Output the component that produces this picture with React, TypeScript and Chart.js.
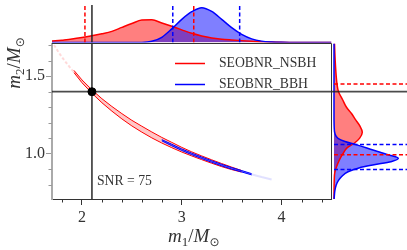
import React, { useEffect, useRef } from 'react';
import { Chart, registerables } from 'chart.js';
Chart.register(...registerables);

const W = 407;
const H = 250;
const SERIF = "'Liberation Serif', 'DejaVu Serif', serif";

// ---------- series names & labels ----------
const seriesNames = ['SEOBNR_NSBH', 'SEOBNR_BBH'];
const snrLabel = 'SNR = 75';

// ---------- axes ----------
const m1Range = [1.7, 4.5];
const m2Range = [0.71, 1.71];
const m1Ticks = [2, 3, 4];
const m2Ticks = [1.0, 1.5];
const m1MinorTicks = [1.8, 2.2, 2.4, 2.6, 2.8, 3.2, 3.4, 3.6, 3.8, 4.2, 4.4];
const m2MinorTicks = [0.8, 0.9, 1.1, 1.2, 1.3, 1.4, 1.6, 1.7];

// ---------- injected (true) values ----------
const trueM1 = [2.1];
const trueM2 = [1.4];

// ---------- main panel: posterior contours ----------
const redTailM1 = [1.72, 1.76, 1.8, 1.85, 1.9, 1.94];
const redTailM2 = [1.7, 1.66, 1.622, 1.58, 1.54, 1.512];
const redBandM1 = [1.92, 2.0, 2.1, 2.2, 2.3, 2.4, 2.5, 2.6, 2.7, 2.8, 2.9, 3.0, 3.1, 3.2, 3.3, 3.4, 3.5, 3.6];
const redBandUpper = [1.537, 1.476, 1.412, 1.355, 1.305, 1.259, 1.216, 1.178, 1.141, 1.106, 1.074, 1.042, 1.013, 0.987, 0.962, 0.938, 0.915, 0.893];
const redBandLower = [1.523, 1.458, 1.39, 1.329, 1.275, 1.225, 1.18, 1.14, 1.103, 1.07, 1.04, 1.012, 0.987, 0.963, 0.94, 0.918, 0.899, 0.883];
const blueBandM1 = [2.8, 2.9, 3.0, 3.1, 3.2, 3.3, 3.4, 3.5, 3.6, 3.7];
const blueBandUpper = [1.092, 1.062, 1.032, 1.005, 0.98, 0.956, 0.933, 0.912, 0.893, 0.873];
const blueBandLower = [1.084, 1.052, 1.022, 0.995, 0.97, 0.946, 0.923, 0.902, 0.884, 0.865];
const blueTailM1 = [3.7, 3.75, 3.8, 3.85, 3.9];
const blueTailM2 = [0.869, 0.86, 0.851, 0.843, 0.835];

// ---------- top marginal: m1 densities (arbitrary units) ----------
const topGridM1 = [1.7, 1.8, 1.9, 2.0, 2.1, 2.2, 2.3, 2.4, 2.5, 2.6, 2.7, 2.8, 2.9, 3.0, 3.1, 3.2, 3.3, 3.4, 3.5, 3.6, 3.7, 3.8, 3.9, 4.0, 4.1, 4.2, 4.3, 4.4, 4.5];
const topRedDensity = [1.4, 2.4, 3.5, 5.0, 6.8, 8.8, 11.3, 15.3, 19.2, 22.8, 23.0, 19.8, 16.4, 12.8, 9.3, 6.6, 4.6, 3.4, 2.6, 1.9, 1.3, 0.8, 0.4, 0.15, 0.05, 0, 0, 0, 0];
const topBlueDensity = [0, 0, 0, 0, 0, 0, 0, 0, 0, 0.1, 1.2, 5.3, 13.8, 23.5, 31.2, 35.3, 31.5, 23.4, 15.0, 8.2, 3.7, 1.4, 0.5, 0.15, 0.05, 0, 0, 0, 0];
const topDensityMax = 38;
const redM1Interval = [2.03, 3.12];
const blueM1Interval = [2.91, 3.58];

// ---------- right marginal: m2 densities (arbitrary units) ----------
const rightRedM2 = [0.71, 0.8, 0.84, 0.88, 0.92, 0.96, 1.0, 1.04, 1.07, 1.1, 1.14, 1.18, 1.22, 1.26, 1.3, 1.35, 1.4, 1.45, 1.5, 1.6, 1.71];
const rightRedDensity = [0, 0.1, 0.3, 0.8, 2.7, 5.3, 8.8, 13.3, 20.5, 25.5, 28.3, 25.8, 21.5, 17.5, 12.5, 8.5, 4.5, 3.0, 2.2, 1.2, 0.5];
const rightBlueM2 = [0.71, 0.76, 0.8, 0.83, 0.855, 0.885, 0.91, 0.93, 0.95, 0.972, 0.995, 1.025, 1.058, 1.08, 1.1, 1.13, 1.17, 1.25, 1.71];
const rightBlueDensity = [0.1, 0.8, 2.2, 4.5, 7.7, 14, 25, 40, 57, 64.3, 54, 39, 22.7, 11, 4, 1, 0.2, 0, 0];
const rightDensityRange = [-2.5, 73];
const redM2Interval = [0.995, 1.45];
const blueM2Interval = [0.9, 1.06];

// ---------- colours ----------
const RED = '#ff0000';
const BLUE = '#0000ff';
const BLACK_LINE = 'rgba(30,30,30,0.8)';

const pts = (xs: number[], ys: number[]) => xs.map((x, i) => ({ x, y: ys[i] }));

function lineDs(data: any[], color: string, width: number, extra: any = {}) {
  return { data, borderColor: color, borderWidth: width, pointRadius: 0, fill: false, tension: 0, ...extra };
}

function drawMath(ctx: CanvasRenderingContext2D, cx: number, cy: number, parts: { text: string; font: string; dy: number }[]) {
  let total = 0;
  const widths = parts.map((p) => {
    ctx.font = p.font;
    const w = ctx.measureText(p.text).width;
    total += w;
    return w;
  });
  let x = cx - total / 2;
  parts.forEach((p, i) => {
    ctx.font = p.font;
    ctx.fillText(p.text, x, cy + p.dy);
    x += widths[i];
  });
}

const mathParts = (sub: string) => [
  { text: 'm', font: `italic 19px ${SERIF}`, dy: 0 },
  { text: sub, font: `13px ${SERIF}`, dy: 3.5 },
  { text: '/', font: `19px ${SERIF}`, dy: 0 },
  { text: 'M', font: `italic 19px ${SERIF}`, dy: 0 },
  { text: '\u2299', font: `12px 'DejaVu Sans', sans-serif`, dy: 3.5 },
];

const mainDecor = {
  id: 'mainDecor',
  afterDraw(chart: any) {
    const { ctx, chartArea: a, scales } = chart;
    const x = scales.x;
    const y = scales.y;
    ctx.save();
    // top and right spines
    ctx.strokeStyle = '#333';
    ctx.lineWidth = 1;
    ctx.beginPath();
    ctx.moveTo(a.left, a.top);
    ctx.lineTo(a.right, a.top);
    ctx.lineTo(a.right, a.bottom);
    ctx.stroke();
    // minor ticks
    ctx.beginPath();
    m1MinorTicks.forEach((v) => {
      const px = Math.round(x.getPixelForValue(v)) + 0.5;
      ctx.moveTo(px, a.bottom);
      ctx.lineTo(px, a.bottom + 3.5);
    });
    ctx.stroke();
    ctx.strokeStyle = '#999';
    ctx.beginPath();
    m2MinorTicks.forEach((v) => {
      const py = Math.round(y.getPixelForValue(v)) + 0.5;
      ctx.moveTo(a.left, py);
      ctx.lineTo(a.left - 3.5, py);
    });
    ctx.stroke();
    // legend
    const lx = a.right - 156.5;
    const colors = [RED, BLUE];
    ctx.lineWidth = 1.5;
    ctx.font = `13.7px ${SERIF}`;
    ctx.textBaseline = 'middle';
    ctx.textAlign = 'left';
    seriesNames.forEach((name, i) => {
      const ly = a.top + 20 + i * 21;
      ctx.strokeStyle = colors[i];
      ctx.beginPath();
      ctx.moveTo(lx, ly);
      ctx.lineTo(lx + 30, ly);
      ctx.stroke();
      ctx.fillStyle = '#333';
      ctx.fillText(name, lx + 44, ly);
    });
    // SNR annotation
    ctx.fillText(snrLabel, a.left + 45, a.bottom - 18);
    // axis titles
    ctx.textBaseline = 'alphabetic';
    ctx.fillStyle = '#333';
    drawMath(ctx, (a.left + a.right) / 2 + 2, 242, mathParts('1'));
    ctx.translate(20, 63);
    ctx.rotate(-Math.PI / 2);
    drawMath(ctx, 0, 0, mathParts('2'));
    ctx.restore();
  },
};

function mainConfig(): any {
  return {
    type: 'line',
    data: {
      datasets: [
        { data: pts(trueM1, trueM2), pointRadius: 4, pointBackgroundColor: '#000', pointBorderColor: '#000', showLine: false, order: 0 },
        lineDs([{ x: trueM1[0], y: m2Range[0] }, { x: trueM1[0], y: m2Range[1] }], BLACK_LINE, 1.8, { order: 1 }),
        lineDs([{ x: m1Range[0], y: trueM2[0] }, { x: m1Range[1], y: trueM2[0] }], BLACK_LINE, 1.8, { order: 1 }),
        lineDs(pts(blueBandM1, blueBandUpper), BLUE, 1, { fill: '+1', backgroundColor: 'rgba(0,0,255,0.5)', order: 2 }),
        lineDs(pts(blueBandM1, blueBandLower), BLUE, 1, { order: 2 }),
        lineDs(pts(blueTailM1, blueTailM2), 'rgba(90,90,255,0.18)', 2, { order: 2 }),
        lineDs(pts(redBandM1, redBandUpper), RED, 1, { fill: '+1', backgroundColor: 'rgba(255,0,0,0.22)', order: 3 }),
        lineDs(pts(redBandM1, redBandLower), RED, 1, { order: 3 }),
        lineDs(pts(redTailM1, redTailM2), 'rgba(255,80,80,0.22)', 2, { borderDash: [3, 2], order: 3 }),
      ],
    },
    options: {
      animation: false,
      responsive: false,
      layout: { padding: { left: 0, top: 43.5, right: 75.5, bottom: 0 } },
      plugins: { legend: { display: false }, tooltip: { enabled: false } },
      scales: {
        x: {
          type: 'linear',
          min: m1Range[0],
          max: m1Range[1],
          afterFit: (s: any) => { s.height = 51; },
          afterBuildTicks: (s: any) => { s.ticks = m1Ticks.map((v) => ({ value: v })); },
          grid: { drawOnChartArea: false, tickLength: 6, tickColor: '#333', tickWidth: 1 },
          border: { color: '#333', width: 1 },
          ticks: { color: '#333', padding: 3, maxRotation: 0, font: { family: SERIF, size: 16 }, callback: (v: any) => String(v) },
        },
        y: {
          type: 'linear',
          min: m2Range[0],
          max: m2Range[1],
          afterFit: (s: any) => { s.width = 52; },
          afterBuildTicks: (s: any) => { s.ticks = m2Ticks.map((v) => ({ value: v })); },
          grid: { drawOnChartArea: false, tickLength: 6, tickColor: '#999', tickWidth: 1 },
          border: { color: '#aaa', width: 2 },
          ticks: { color: '#333', padding: 1, font: { family: SERIF, size: 16 }, callback: (v: any) => Number(v).toFixed(1) },
        },
      },
    },
    plugins: [mainDecor],
  };
}

function topConfig(): any {
  const dashed = (v: number, color: string) =>
    lineDs([{ x: v, y: 0 }, { x: v, y: topDensityMax }], color, 1.5, { borderDash: [4, 2.5], order: 1 });
  return {
    type: 'line',
    data: {
      datasets: [
        lineDs(pts(topGridM1, topRedDensity), 'rgba(0,0,0,0)', 0, { fill: 'origin', backgroundColor: 'rgba(255,0,0,0.5)', cubicInterpolationMode: 'monotone', order: 6 }),
        lineDs(pts(topGridM1, topBlueDensity), 'rgba(0,0,0,0)', 0, { fill: 'origin', backgroundColor: 'rgba(0,0,255,0.5)', cubicInterpolationMode: 'monotone', order: 5 }),
        lineDs(pts(topGridM1, topRedDensity), RED, 1.5, { cubicInterpolationMode: 'monotone', order: 4 }),
        lineDs(pts(topGridM1, topBlueDensity), BLUE, 1.5, { cubicInterpolationMode: 'monotone', order: 3 }),
        ...redM1Interval.map((v) => dashed(v, RED)),
        ...blueM1Interval.map((v) => dashed(v, BLUE)),
        lineDs([{ x: trueM1[0], y: 0 }, { x: trueM1[0], y: topDensityMax }], BLACK_LINE, 1.8, { order: 0 }),
      ],
    },
    options: {
      animation: false,
      responsive: false,
      layout: { padding: { left: 52, right: 75.5, top: 5, bottom: 207.5 } },
      plugins: { legend: { display: false }, tooltip: { enabled: false } },
      scales: {
        x: { type: 'linear', display: false, min: m1Range[0], max: m1Range[1] },
        y: { type: 'linear', display: false, min: 0, max: topDensityMax },
      },
    },
  };
}

function rightConfig(): any {
  const dashed = (v: number, color: string) =>
    lineDs([{ x: 0, y: v }, { x: rightDensityRange[1], y: v }], color, 1.5, { borderDash: [4, 2.5], order: 1 });
  return {
    type: 'line',
    data: {
      datasets: [
        lineDs(pts(rightRedDensity, rightRedM2), 'rgba(0,0,0,0)', 0, { fill: 'origin', backgroundColor: 'rgba(255,0,0,0.5)', cubicInterpolationMode: 'monotone', order: 6 }),
        lineDs(pts(rightBlueDensity, rightBlueM2), 'rgba(0,0,0,0)', 0, { fill: 'origin', backgroundColor: 'rgba(0,0,255,0.5)', cubicInterpolationMode: 'monotone', order: 5 }),
        lineDs(pts(rightRedDensity, rightRedM2), RED, 1.5, { cubicInterpolationMode: 'monotone', order: 4 }),
        lineDs(pts(rightBlueDensity, rightBlueM2), BLUE, 1.5, { cubicInterpolationMode: 'monotone', order: 3 }),
        ...redM2Interval.map((v) => dashed(v, RED)),
        ...blueM2Interval.map((v) => dashed(v, BLUE)),
        lineDs([{ x: rightDensityRange[0], y: trueM2[0] }, { x: rightDensityRange[1], y: trueM2[0] }], BLACK_LINE, 1.8, { order: 0 }),
      ],
    },
    options: {
      animation: false,
      responsive: false,
      indexAxis: 'y',
      layout: { padding: { left: 331.5, right: 0, top: 43.5, bottom: 51 } },
      plugins: { legend: { display: false }, tooltip: { enabled: false } },
      scales: {
        x: { type: 'linear', display: false, min: rightDensityRange[0], max: rightDensityRange[1] },
        y: { type: 'linear', display: false, min: m2Range[0], max: m2Range[1] },
      },
    },
  };
}

export default function App() {
  const mainRef = useRef<HTMLCanvasElement>(null);
  const topRef = useRef<HTMLCanvasElement>(null);
  const rightRef = useRef<HTMLCanvasElement>(null);

  useEffect(() => {
    const charts = [
      new Chart(mainRef.current as HTMLCanvasElement, mainConfig()),
      new Chart(topRef.current as HTMLCanvasElement, topConfig()),
      new Chart(rightRef.current as HTMLCanvasElement, rightConfig()),
    ];
    return () => charts.forEach((c) => c.destroy());
  }, []);

  const cs: React.CSSProperties = { position: 'absolute', left: 0, top: 0, width: W, height: H };
  return (
    <div style={{ position: 'absolute', left: 0, top: 0, width: W, height: H, background: '#fff' }}>
      <canvas ref={mainRef} width={W} height={H} style={cs} />
      <canvas ref={topRef} width={W} height={H} style={cs} />
      <canvas ref={rightRef} width={W} height={H} style={cs} />
    </div>
  );
}
